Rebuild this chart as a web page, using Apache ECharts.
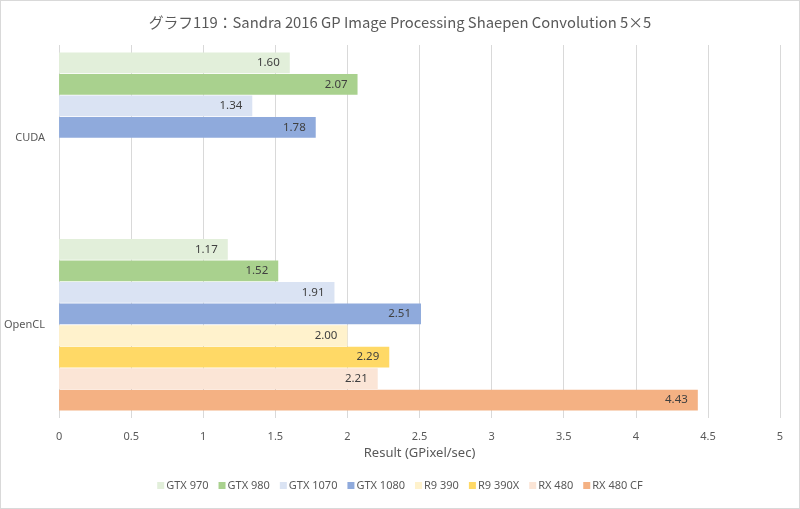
<!DOCTYPE html>
<html><head><meta charset="utf-8">
<script src="https://cdn.jsdelivr.net/npm/echarts@6/dist/echarts.min.js"></script>
<style>
html,body{margin:0;padding:0;background:#fff;}
#c{width:798px;height:507px;border:1px solid #d9d9d9;}
</style></head>
<body><div id="c"></div>
<script>
const categories = ['CUDA', 'OpenCL'];
const seriesNames = ['GTX 970','GTX 980','GTX 1070','GTX 1080','R9 390','R9 390X','RX 480','RX 480 CF'];
const gtx970 = [1.60, 1.17];
const gtx980 = [2.07, 1.52];
const gtx1070 = [1.34, 1.91];
const gtx1080 = [1.78, 2.51];
const r9390 = [null, 2.00];
const r9390x = [null, 2.29];
const rx480 = [null, 2.21];
const rx480cf = [null, 4.43];
const xTicks = [0, 0.5, 1, 1.5, 2, 2.5, 3, 3.5, 4, 4.5, 5];
const colors = ['#E2EFDA','#A9D18E','#DAE3F3','#8FAADC','#FFF2CC','#FFD966','#FBE5D6','#F4B183'];
const allData = [gtx970, gtx980, gtx1070, gtx1080, r9390, r9390x, rx480, rx480cf];

const chart = echarts.init(document.getElementById('c'));
const font = "'Noto Sans', 'Noto Sans CJK JP', sans-serif";
chart.setOption({
  animation: false,
  textStyle: {fontFamily: font},
  title: {
    text: 'グラフ119：Sandra 2016 GP Image Processing Shaepen Convolution 5×5',
    left: 'center', top: 9,
    textStyle: {fontSize: 14.8, fontWeight: 'normal', color: '#595959', fontFamily: "'Noto Sans CJK JP', sans-serif"}
  },
  legend: {
    bottom: 12, left: 'center', itemWidth: 7, itemHeight: 7, itemGap: 10,
    icon: 'rect',
    textStyle: {fontSize: 11, color: '#595959', padding: [0,0,0,-3]},
    data: seriesNames
  },
  grid: {left: 57, right: 19, top: 44, bottom: 90, containLabel: false},
  xAxis: {
    type: 'value', min: 0, max: 5, interval: 0.5,
    name: 'Result (GPixel/sec)', nameLocation: 'middle', nameGap: 27,
    nameTextStyle: {fontSize: 13, color: '#595959'},
    axisLine: {show: false}, axisTick: {show: false},
    axisLabel: {color: '#595959', fontSize: 11, margin: 13,
      formatter: v => { const t = xTicks.find(x => Math.abs(x - v) < 1e-9); return t === undefined ? '' : String(t); }},
    splitLine: {lineStyle: {color: '#d9d9d9'}}
  },
  yAxis: {
    type: 'category', data: categories, inverse: true,
    axisLine: {show: false}, axisTick: {show: false},
    axisLabel: {color: '#595959', fontSize: 11, margin: 14}
  },
  series: seriesNames.map((n, i) => ({
    name: n, type: 'bar', data: allData[i],
    barGap: '4%', barCategoryGap: '8%',
    itemStyle: {color: colors[i]},
    label: {show: true, position: 'insideRight', color: '#404040', fontSize: 11.5,
      formatter: p => p.value == null ? '' : p.value.toFixed(2), distance: 10}
  }))
});
</script></body></html>
